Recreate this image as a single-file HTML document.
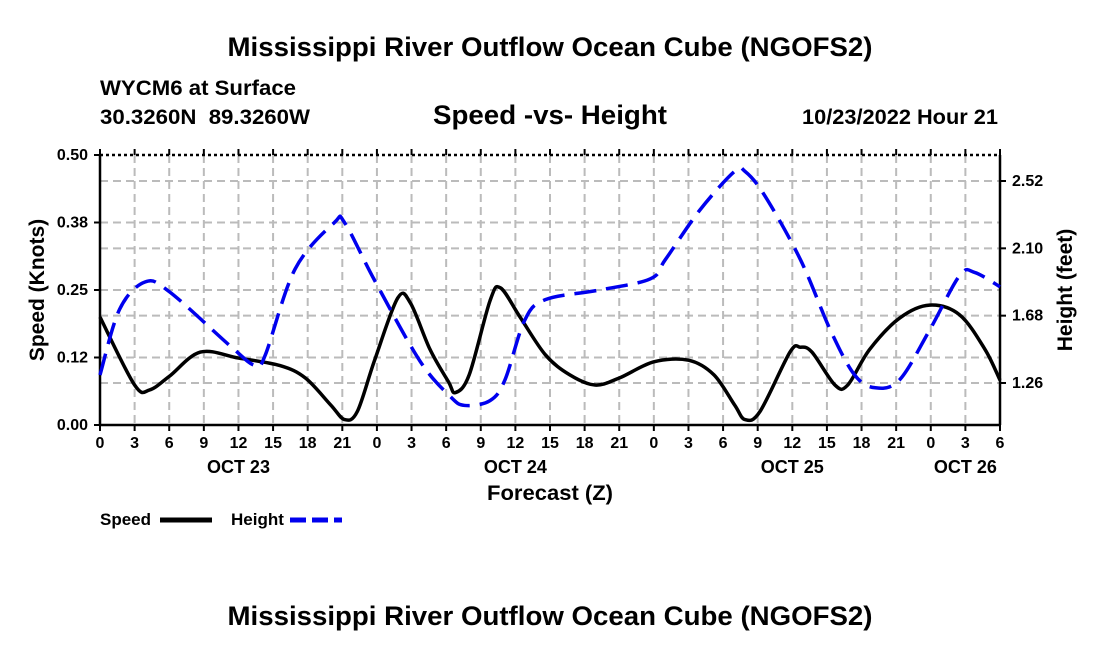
<!DOCTYPE html>
<html><head><meta charset="utf-8"><style>
body{margin:0;background:#fff;width:1100px;height:650px;overflow:hidden;font-family:"Liberation Sans",Arial,sans-serif}
svg text{font-family:"Liberation Sans",Arial,sans-serif;font-weight:bold;fill:#000}
</style></head><body>
<svg id="chart" width="1100" height="650" viewBox="0 0 1100 650" xmlns="http://www.w3.org/2000/svg">
<text x="550" y="56" font-size="27" text-anchor="middle" textLength="645" lengthAdjust="spacingAndGlyphs">Mississippi River Outflow Ocean Cube (NGOFS2)</text>
<text x="100" y="95" font-size="21" textLength="196" lengthAdjust="spacingAndGlyphs">WYCM6 at Surface</text>
<text x="100" y="124" font-size="21" textLength="210" lengthAdjust="spacingAndGlyphs" xml:space="preserve">30.3260N  89.3260W</text>
<text x="550" y="124" font-size="27" text-anchor="middle" textLength="234" lengthAdjust="spacingAndGlyphs">Speed -vs- Height</text>
<text x="998" y="124" font-size="21" text-anchor="end" textLength="196" lengthAdjust="spacingAndGlyphs">10/23/2022 Hour 21</text>
<g id="grid"></g>
<g id="axes"></g>
<g id="series"></g>
<text x="550" y="500" font-size="21" text-anchor="middle" textLength="126" lengthAdjust="spacingAndGlyphs">Forecast (Z)</text>
<text transform="translate(44,290) rotate(-90)" font-size="21" text-anchor="middle">Speed (Knots)</text>
<text transform="translate(1072,290) rotate(-90)" font-size="21" text-anchor="middle">Height (feet)</text>
<g><text x="100" y="525" font-size="17">Speed</text><line x1="160" y1="520" x2="212" y2="520" stroke="#000" stroke-width="5"/></g>
<g><text x="231" y="525" font-size="17">Height</text><line x1="290" y1="520" x2="342" y2="520" stroke="#0000ee" stroke-width="5" stroke-dasharray="16,6"/></g>
<text x="550" y="625" font-size="27" text-anchor="middle" textLength="645" lengthAdjust="spacingAndGlyphs">Mississippi River Outflow Ocean Cube (NGOFS2)</text>
</svg>
<script>
const speedHours=[0,3,4.3,6,8.7,12,15.6,17.8,20,21.2,22.3,23.8,25.8,26.9,28.6,30.2,30.8,32,33.8,34.7,36.4,38.6,40.7,42.9,45,48,51,53.2,55,55.9,57.2,59.8,60.7,61.7,63.7,64.8,66.7,69.3,71.9,74.5,76.7,78];
const speedValues=[0.20,0.074,0.065,0.09,0.135,0.124,0.11,0.087,0.037,0.01,0.025,0.12,0.235,0.226,0.14,0.08,0.06,0.093,0.23,0.254,0.20,0.13,0.093,0.074,0.087,0.117,0.12,0.093,0.037,0.01,0.025,0.135,0.144,0.135,0.074,0.074,0.14,0.198,0.222,0.204,0.14,0.083];
const heightHours=[0,1.7,3.9,6,11.3,13.4,14.3,16.9,20.3,21.2,23.8,27.7,30.3,31.6,33.8,35.1,36.8,38.6,43.3,47.7,49,52,55,55.9,57.6,60.7,63.3,65.4,67.2,69.3,71.9,74.5,75.8,78];
const heightValues=[1.31,1.72,1.89,1.83,1.49,1.37,1.43,1.97,2.26,2.26,1.90,1.40,1.18,1.12,1.15,1.28,1.65,1.78,1.84,1.91,2.03,2.34,2.58,2.58,2.43,2.03,1.59,1.31,1.23,1.28,1.59,1.93,1.95,1.86];
const hourTickLabels=["0","3","6","9","12","15","18","21","0","3","6","9","12","15","18","21","0","3","6","9","12","15","18","21","0","3","6"];
const dayLabels=["OCT 23","OCT 24","OCT 25","OCT 26"];
const dayLabelHours=[12,36,60,75];
const speedTicks=[0,0.125,0.25,0.375,0.5];
const speedTickLabels=["0.00","0.12","0.25","0.38","0.50"];
const heightTicks=[1.26,1.68,2.10,2.52];
const heightTickLabels=["1.26","1.68","2.10","2.52"];

const X0=100,X1=1000,Y0=425,Y1=155,HMAX=78;
const HLO=1.26-(425-383)/(67.3/0.42), HHI=2.52+(181-155)/(67.3/0.42);
const xs=h=>X0+(X1-X0)*h/HMAX;
const ys=v=>Y0-(Y0-Y1)*v/0.5;
const yh=v=>Y0-(Y0-Y1)*(v-HLO)/(HHI-HLO);
const NS="http://www.w3.org/2000/svg";
function mk(tag,parent,attrs){const e=document.createElementNS(NS,tag);for(const k in attrs)e.setAttribute(k,attrs[k]);parent.appendChild(e);return e;}
const gridG=document.getElementById('grid'),axesG=document.getElementById('axes'),seriesG=document.getElementById('series');
const gs={stroke:"#bbb","stroke-width":2,"stroke-dasharray":"8,5"};
hourTickLabels.forEach((t,i)=>{const x=xs(i*3);
 if(i>0&&i<hourTickLabels.length-1){const l=mk('line',gridG,Object.assign({x1:x,x2:x,y1:Y1,y2:Y0},gs));
  
  }
 const tk=mk('line',axesG,{x1:x,x2:x,y1:Y0,y2:Y0+6,stroke:"#000","stroke-width":2});
 
 
 const tk2=mk('line',axesG,{x1:x,x2:x,y1:Y1-6,y2:Y1,stroke:"#000","stroke-width":2});
 
 
 const tx=mk('text',axesG,{x:x,y:448,"font-size":16,"text-anchor":"middle"});tx.textContent=t;
 
 
});
dayLabels.forEach((d,i)=>{const tx=mk('text',axesG,{x:xs(dayLabelHours[i]),y:473,"font-size":18,"text-anchor":"middle"});tx.textContent=d;
 
 });
speedTicks.forEach((v,i)=>{const y=ys(v);
 if(i>0&&i<speedTicks.length-1){const l=mk('line',gridG,Object.assign({x1:X0,x2:X1,y1:y,y2:y},gs));
  
  }
 const tk=mk('line',axesG,{x1:X0-6,x2:X0,y1:y,y2:y,stroke:"#000","stroke-width":2});
 
 
 const tx=mk('text',axesG,{x:88,y:y+5,"font-size":16,"text-anchor":"end"});tx.textContent=speedTickLabels[i];
 
 });
heightTicks.forEach((v,i)=>{const y=yh(v);
 const l=mk('line',gridG,Object.assign({x1:X0,x2:X1,y1:y,y2:y},gs));
 
 
 const tk=mk('line',axesG,{x1:X1,x2:X1+6,y1:y,y2:y,stroke:"#000","stroke-width":2});
 
 
 const tx=mk('text',axesG,{x:1012,y:y+5,"font-size":16});tx.textContent=heightTickLabels[i];
 
 });
const fr=[[X0,Y1,X0,Y0],[X0,Y0,X1,Y0],[X1,Y0,X1,Y1]];
fr.forEach(f=>{const l=mk('line',axesG,{x1:f[0],y1:f[1],x2:f[2],y2:f[3],stroke:"#000","stroke-width":2.5});
 
 });
const topLine=mk('line',axesG,{x1:X0,y1:Y1,x2:X1,y2:Y1,stroke:"#000","stroke-width":2.5,"stroke-dasharray":"3,3"});


function smooth(pts){let d=`M${pts[0][0]},${pts[0][1]}`;
 for(let i=0;i<pts.length-1;i++){const p0=pts[Math.max(0,i-1)],p1=pts[i],p2=pts[i+1],p3=pts[Math.min(pts.length-1,i+2)];
  const c1=[p1[0]+(p2[0]-p0[0])/6,p1[1]+(p2[1]-p0[1])/6],c2=[p2[0]-(p3[0]-p1[0])/6,p2[1]-(p3[1]-p1[1])/6];
  d+=` C${c1[0]},${c1[1]} ${c2[0]},${c2[1]} ${p2[0]},${p2[1]}`;}return d;}
const sp=mk('path',seriesG,{d:smooth(speedHours.map((h,i)=>[xs(h),ys(speedValues[i])])),fill:"none",stroke:"#000","stroke-width":3.5});


const hp=mk('path',seriesG,{d:smooth(heightHours.map((h,i)=>[xs(h),yh(heightValues[i])])),fill:"none",stroke:"#0000ee","stroke-width":3.5,"stroke-dasharray":"22,10"});


</script>
</body></html>
